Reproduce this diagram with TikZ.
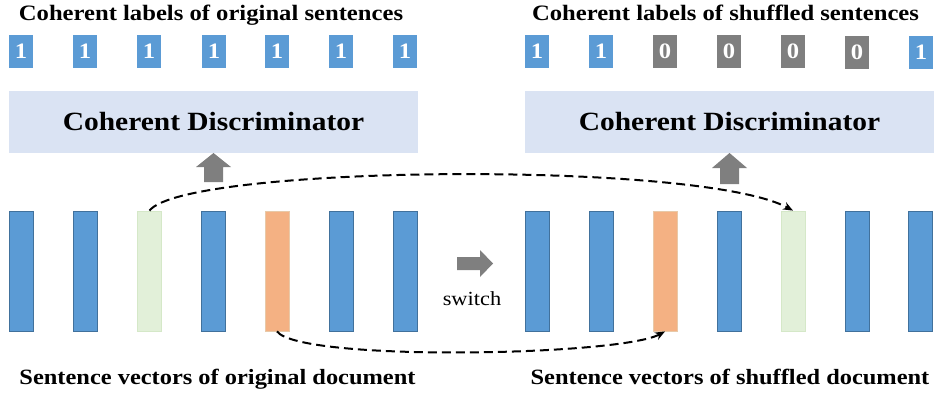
\documentclass[tikz,border=0pt]{standalone}
\usepackage{fontspec}
\setmainfont{Liberation Serif}[FakeStretch=1.12]
\usetikzlibrary{arrows.meta}
\definecolor{barblue}{HTML}{5B9BD5}
\definecolor{barblueline}{HTML}{41719C}
\definecolor{bargreen}{HTML}{E2F0D9}
\definecolor{bargreenline}{HTML}{D5E8C8}
\definecolor{barorange}{HTML}{F4B183}
\definecolor{barorangeline}{HTML}{E8C9A8}
\definecolor{discfill}{HTML}{DAE3F3}
\definecolor{arrgray}{HTML}{7F7F7F}
\tikzset{
  bar/.style={minimum width=24pt,minimum height=120pt,inner sep=0pt,line width=0.8pt},
  bluebar/.style={bar,fill=barblue,draw=barblueline},
  greenbar/.style={bar,fill=bargreen,draw=bargreenline},
  orangebar/.style={bar,fill=barorange,draw=barorangeline},
  lab/.style={minimum width=24pt,minimum height=33pt,inner sep=0pt,text=white,font=\fontsize{22}{22}\selectfont\bfseries},
  onelab/.style={lab,fill=barblue},
  zerolab/.style={lab,fill=arrgray},
  disc/.style={fill=discfill,minimum width=409pt,minimum height=62pt,inner sep=0pt,font=\fontsize{26.3}{26.3}\selectfont\bfseries},
  title/.style={font=\fontsize{22}{22}\selectfont\bfseries,inner sep=0pt,anchor=base},
  btitle/.style={font=\fontsize{21.8}{21.8}\selectfont\bfseries,inner sep=0pt,anchor=base},
  blockarrow/.style={fill=arrgray,draw=none},
  swaparrow/.style={line width=2pt,dash pattern=on 9pt off 5pt,-{Stealth[length=10pt,width=8pt]}}
}
\begin{document}
\begin{tikzpicture}[x=1pt,y=-1pt]
\useasboundingbox (0,0) rectangle (939,394);
% titles
\node[title] (tl) at (211,20) {Coherent labels of original sentences};
\node[title] (tr) at (725.5,20) {Coherent labels of shuffled sentences};
\node[btitle] (bl) at (217.5,384) {Sentence vectors of original document};
\node[btitle] (br) at (730,384) {Sentence vectors of shuffled document};
% labels
\foreach \x [count=\i] in {21,85,149,214,277,341,405}
  \node[onelab] (ll\i) at (\x,51.5) {1};
\node[onelab] (lr1) at (537,51.5) {1};
\node[onelab] (lr2) at (601,51.5) {1};
\node[zerolab] (lr3) at (665,51.5) {0};
\node[zerolab] (lr4) at (729,51.5) {0};
\node[zerolab] (lr5) at (793,51.5) {0};
\node[zerolab] (lr6) at (857,52.5) {0};
\node[onelab] (lr7) at (921,52.5) {1};
% discriminators
\node[disc] (dl) at (213.5,122) {Coherent Discriminator};
\node[disc] (dr) at (729.5,122) {Coherent Discriminator};
% bars left
\node[bluebar] (a1) at (21,271) {};
\node[bluebar] (a2) at (85.5,271) {};
\node[greenbar] (a3) at (149.5,271) {};
\node[bluebar] (a4) at (213.5,271) {};
\node[orangebar] (a5) at (277,271) {};
\node[bluebar] (a6) at (341,271) {};
\node[bluebar] (a7) at (405,271) {};
% bars right
\node[bluebar] (b1) at (537.5,271) {};
\node[bluebar] (b2) at (601.5,271) {};
\node[orangebar] (b3) at (665,271) {};
\node[bluebar] (b4) at (729.5,271) {};
\node[greenbar] (b5) at (793,271) {};
\node[bluebar] (b6) at (857,271) {};
\node[bluebar] (b7) at (920.5,271) {};
% up arrows
\fill[blockarrow] (204,182) -- (204,167) -- (196,167) -- (213.5,153) -- (231,167) -- (223,167) -- (223,182) -- cycle;
\fill[blockarrow] (720,184) -- (720,168) -- (712,168) -- (729.5,153) -- (747,168) -- (739,168) -- (739,184) -- cycle;
% switch arrow
\fill[blockarrow] (457,257) -- (480,257) -- (480,250) -- (493,263.5) -- (480,277) -- (480,270) -- (457,270) -- cycle;
\node[font=\fontsize{20}{20}\selectfont,anchor=base] (sw) at (472,305) {switch};
% dashed swaps
\draw[swaparrow] (a3.north) .. controls (185,165) and (700,160) .. (b5.north);
\draw[swaparrow] (a5.south) .. controls (300,362) and (620,356) .. (b3.south);
\end{tikzpicture}
\end{document}
